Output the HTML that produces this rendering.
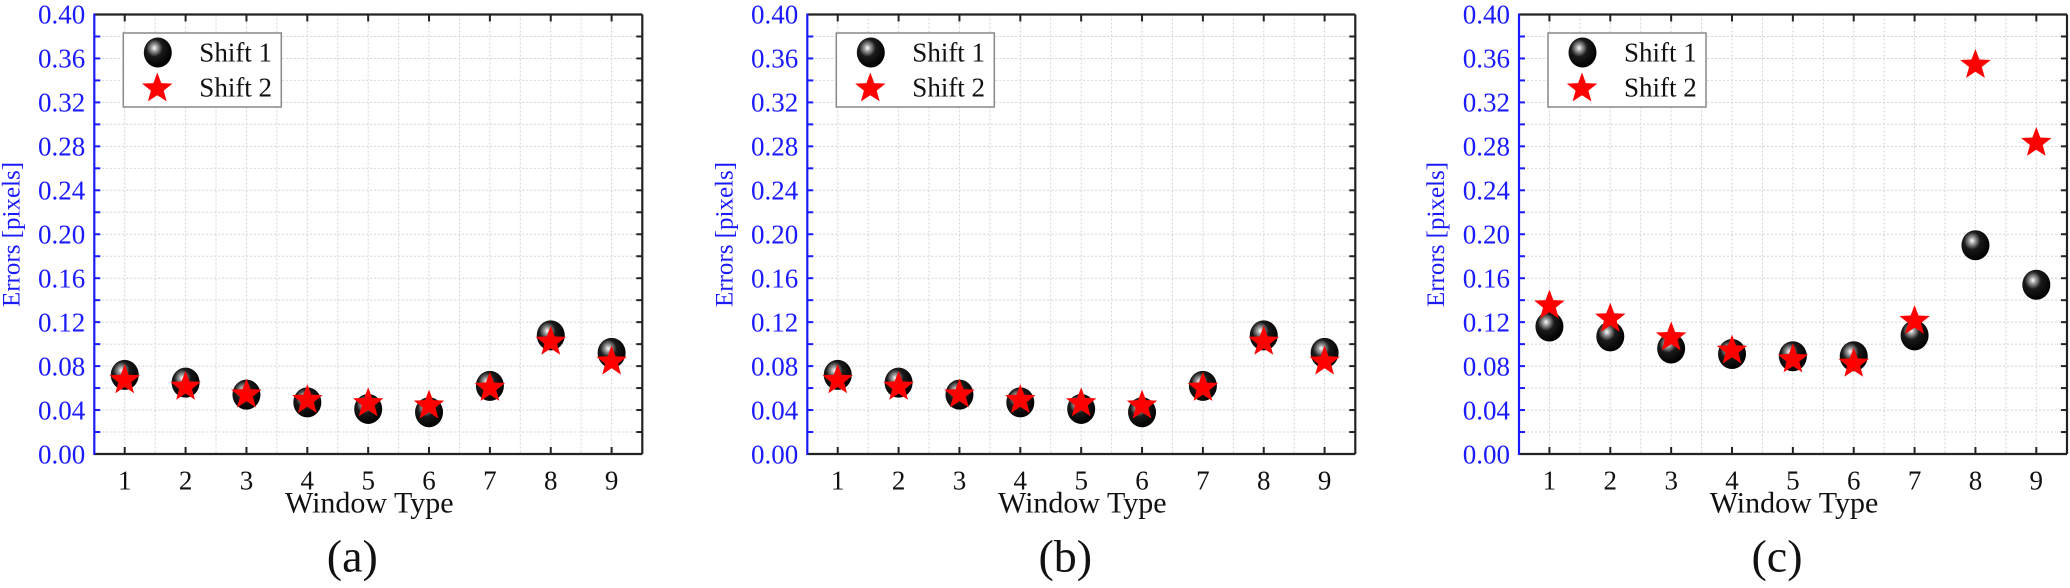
<!DOCTYPE html>
<html><head><meta charset="utf-8"><style>
html,body{margin:0;padding:0;background:#fff;}
svg{display:block;}
svg text{font-family:"Liberation Serif","DejaVu Serif","Times New Roman",Times,serif !important;}
.yl{fill:#1a1aff;font-size:27px;text-anchor:end;}
.xl{fill:#111;font-size:27px;text-anchor:middle;}
.ttl{fill:#111;font-size:30px;text-anchor:middle;}
.cap{fill:#111;font-size:46px;text-anchor:middle;}
.lg{fill:#111;font-size:27px;}
.ya{fill:#1a1aff;font-size:25px;text-anchor:middle;}
</style></head><body>
<svg id="s" width="2070" height="588" viewBox="0 0 2070 588" xmlns="http://www.w3.org/2000/svg" font-family="'Liberation Serif', 'DejaVu Serif', serif">
<defs>
<radialGradient id="sph" cx="0.38" cy="0.35" r="0.65">
<stop offset="0" stop-color="#ffffff"/>
<stop offset="0.18" stop-color="#9a9a9a"/>
<stop offset="0.45" stop-color="#1a1a1a"/>
<stop offset="1" stop-color="#000"/>
</radialGradient>
</defs>
<g id="pa" transform="translate(94.3,14.5)">
<g class="shapes"></g>
<text class="yl" x="-9" y="449">0.00</text><text class="yl" x="-9" y="405">0.04</text><text class="yl" x="-9" y="361">0.08</text><text class="yl" x="-9" y="317">0.12</text><text class="yl" x="-9" y="273">0.16</text><text class="yl" x="-9" y="229">0.20</text><text class="yl" x="-9" y="185">0.24</text><text class="yl" x="-9" y="141">0.28</text><text class="yl" x="-9" y="97">0.32</text><text class="yl" x="-9" y="53">0.36</text><text class="yl" x="-9" y="9">0.40</text>
<text class="xl" x="30.4" y="475">1</text><text class="xl" x="91.3" y="475">2</text><text class="xl" x="152.2" y="475">3</text><text class="xl" x="213" y="475">4</text><text class="xl" x="273.9" y="475">5</text><text class="xl" x="334.7" y="475">6</text><text class="xl" x="395.6" y="475">7</text><text class="xl" x="456.5" y="475">8</text><text class="xl" x="517.3" y="475">9</text>
<text class="ttl" x="275" y="498">Window Type</text>
<text class="cap" x="258" y="557">(a)</text>
<text class="ya" transform="translate(-75,220) rotate(-90)">Errors [pixels]</text>
<text class="lg" x="105" y="47">Shift 1</text><text class="lg" x="105" y="82">Shift 2</text>
</g>
<g id="pb" transform="translate(807.3,14.5)">
<g class="shapes"></g>
<text class="yl" x="-9" y="449">0.00</text><text class="yl" x="-9" y="405">0.04</text><text class="yl" x="-9" y="361">0.08</text><text class="yl" x="-9" y="317">0.12</text><text class="yl" x="-9" y="273">0.16</text><text class="yl" x="-9" y="229">0.20</text><text class="yl" x="-9" y="185">0.24</text><text class="yl" x="-9" y="141">0.28</text><text class="yl" x="-9" y="97">0.32</text><text class="yl" x="-9" y="53">0.36</text><text class="yl" x="-9" y="9">0.40</text>
<text class="xl" x="30.4" y="475">1</text><text class="xl" x="91.3" y="475">2</text><text class="xl" x="152.2" y="475">3</text><text class="xl" x="213" y="475">4</text><text class="xl" x="273.9" y="475">5</text><text class="xl" x="334.7" y="475">6</text><text class="xl" x="395.6" y="475">7</text><text class="xl" x="456.5" y="475">8</text><text class="xl" x="517.3" y="475">9</text>
<text class="ttl" x="275" y="498">Window Type</text>
<text class="cap" x="258" y="557">(b)</text>
<text class="ya" transform="translate(-75,220) rotate(-90)">Errors [pixels]</text>
<text class="lg" x="105" y="47">Shift 1</text><text class="lg" x="105" y="82">Shift 2</text>
</g>
<g id="pc" transform="translate(1519,14.5)">
<g class="shapes"></g>
<text class="yl" x="-9" y="449">0.00</text><text class="yl" x="-9" y="405">0.04</text><text class="yl" x="-9" y="361">0.08</text><text class="yl" x="-9" y="317">0.12</text><text class="yl" x="-9" y="273">0.16</text><text class="yl" x="-9" y="229">0.20</text><text class="yl" x="-9" y="185">0.24</text><text class="yl" x="-9" y="141">0.28</text><text class="yl" x="-9" y="97">0.32</text><text class="yl" x="-9" y="53">0.36</text><text class="yl" x="-9" y="9">0.40</text>
<text class="xl" x="30.4" y="475">1</text><text class="xl" x="91.3" y="475">2</text><text class="xl" x="152.2" y="475">3</text><text class="xl" x="213" y="475">4</text><text class="xl" x="273.9" y="475">5</text><text class="xl" x="334.7" y="475">6</text><text class="xl" x="395.6" y="475">7</text><text class="xl" x="456.5" y="475">8</text><text class="xl" x="517.3" y="475">9</text>
<text class="ttl" x="275" y="498">Window Type</text>
<text class="cap" x="258" y="557">(c)</text>
<text class="ya" transform="translate(-75,220) rotate(-90)">Errors [pixels]</text>
<text class="lg" x="105" y="47">Shift 1</text><text class="lg" x="105" y="82">Shift 2</text>
</g>
</svg>
<script>
var NS="http://www.w3.org/2000/svg";
var W=548,H=439.5,sx=60.86,sy=H/0.4;
var ab={s1:[0.072,0.065,0.054,0.047,0.041,0.038,0.062,0.108,0.092],s2:[0.068,0.062,0.055,0.050,0.047,0.045,0.061,0.103,0.085]};
var data={pa:ab,pb:ab,pc:{s1:[0.116,0.107,0.096,0.091,0.089,0.089,0.108,0.190,0.154],s2:[0.136,0.124,0.107,0.095,0.087,0.083,0.122,0.355,0.284]}};
function el(p,n,a){var e=document.createElementNS(NS,n);for(var k in a)e.setAttribute(k,a[k]);p.appendChild(e);return e;}
function star(cx,cy,R){var r=R*0.42,pts=[];for(var i=0;i<10;i++){var rr=i%2?r:R,a=-Math.PI/2+i*Math.PI/5;pts.push((cx+rr*Math.cos(a)).toFixed(1)+","+(cy+rr*Math.sin(a)).toFixed(1));}return pts.join(" ");}
["pa","pb","pc"].forEach(function(id){
 var g=document.querySelector("#"+id+" .shapes");
 for(var i=1;i<18;i++){var x=i*sx/2;el(g,"line",{x1:x,y1:0,x2:x,y2:H,stroke:"#d4d4d4","stroke-width":1,"stroke-dasharray":"2,2"});}
 for(var j=1;j<20;j++){var y=H-j*0.02*sy;el(g,"line",{x1:0,y1:y,x2:W,y2:y,stroke:"#d4d4d4","stroke-width":1,"stroke-dasharray":"2,2"});}
 for(var i=1;i<=9;i++){var x=(i-0.5)*sx;el(g,"line",{x1:x,y1:H,x2:x,y2:H-7,stroke:"#222","stroke-width":2});el(g,"line",{x1:x,y1:0,x2:x,y2:7,stroke:"#222","stroke-width":2});}
 for(var j=1;j<20;j++){var y=H-j*0.02*sy;el(g,"line",{x1:0,y1:y,x2:6,y2:y,stroke:"#1a1aff","stroke-width":2});el(g,"line",{x1:W,y1:y,x2:W-6,y2:y,stroke:"#222","stroke-width":2});}
 el(g,"line",{x1:0,y1:H,x2:W,y2:H,stroke:"#222","stroke-width":2.2});
 el(g,"line",{x1:0,y1:0,x2:W,y2:0,stroke:"#222","stroke-width":2.2});
 el(g,"line",{x1:W,y1:0,x2:W,y2:H,stroke:"#222","stroke-width":2.2});
 el(g,"line",{x1:0,y1:-1,x2:0,y2:H+1,stroke:"#1a1aff","stroke-width":2.2});
 el(g,"rect",{x:29,y:18.5,width:158,height:74,fill:"#fff",stroke:"#888","stroke-width":1.5});
 el(g,"ellipse",{cx:63.5,cy:38,rx:14,ry:15,fill:"url(#sph)"});
 el(g,"polygon",{points:star(63,74,16),fill:"#ff0000"});
 var d=data[id];
 for(var i=0;i<9;i++){var x=(i+0.5)*sx;el(g,"ellipse",{cx:x,cy:H-d.s1[i]*sy,rx:14,ry:15,fill:"url(#sph)"});}
 for(var i=0;i<9;i++){var x=(i+0.5)*sx;el(g,"polygon",{points:star(x,H-d.s2[i]*sy+1,16),fill:"#ff0000"});}
});
</script>
</body></html>
